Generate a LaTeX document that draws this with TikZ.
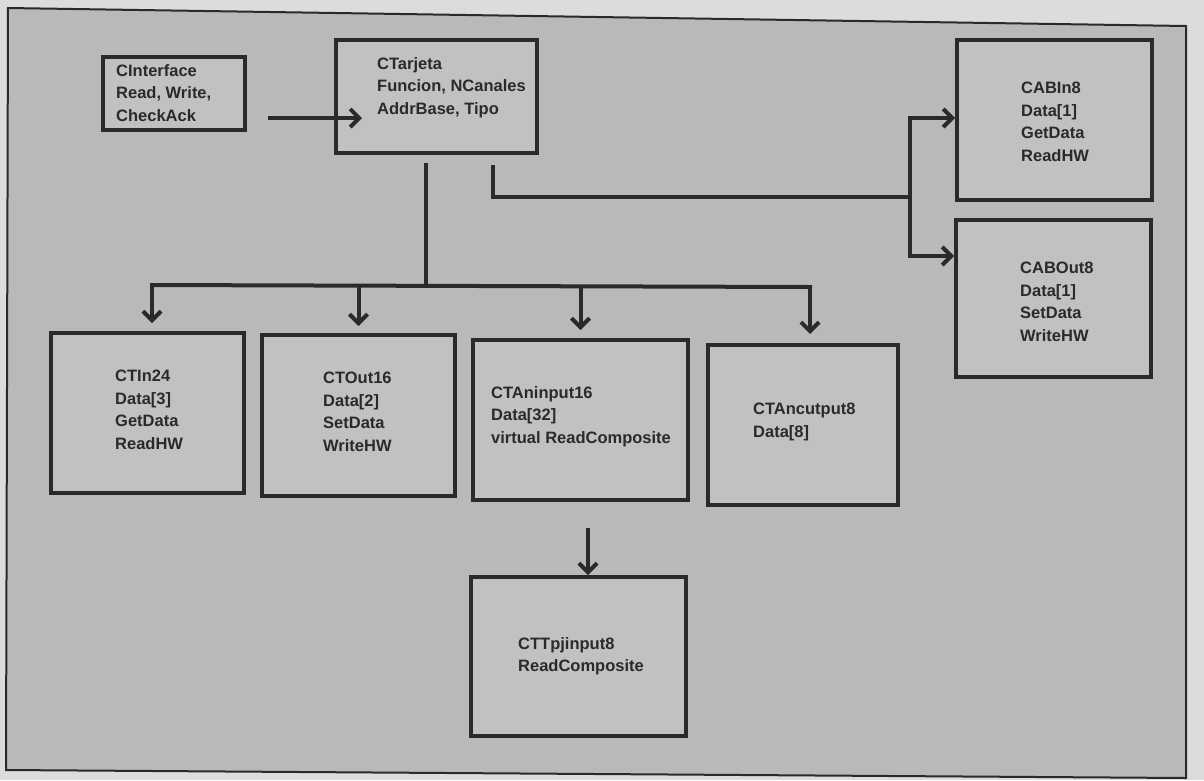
\documentclass[tikz,border=0pt]{standalone}
\usepackage{fontspec}
\setmainfont{Liberation Sans}
\usetikzlibrary{arrows.meta}
\definecolor{paper}{HTML}{DCDCDC}
\definecolor{panel}{HTML}{B9B9BB}
\definecolor{ink}{HTML}{2A2A2C}
\tikzset{
  cls/.style={draw=ink, line width=4pt, fill=panel!88!white, inner sep=0pt},
  txt/.style={anchor=north west, inner sep=0pt, align=left, text=ink,
    font=\fontsize{16.5}{22.5}\selectfont\bfseries},
  wire/.style={draw=ink, line width=4pt},
  arr/.style={draw=ink, line width=4pt, -{Straight Barb[length=9pt,width=18pt,line width=4pt]}}
}
\begin{document}
\begin{tikzpicture}[x=1pt,y=-1pt]
\useasboundingbox (0,0) rectangle (1204,780);
\fill[paper] (0,0) rectangle (1204,780);
\filldraw[fill=panel, draw=ink, line width=2pt] (8,8) -- (1186,26) -- (1186,778) -- (6,770) -- cycle;
% boxes
\node[cls, minimum width=142pt, minimum height=73pt] (iface) at (174,93.5) {};
\node[cls, minimum width=201pt, minimum height=113pt] (tarj) at (436.5,96.5) {};
\node[cls, minimum width=195pt, minimum height=160pt] (abin) at (1054.5,120) {};
\node[cls, minimum width=195pt, minimum height=157pt] (about) at (1053.5,298.5) {};
\node[cls, minimum width=193pt, minimum height=160pt] (tin) at (147.5,413) {};
\node[cls, minimum width=193pt, minimum height=161pt] (tout) at (358.5,415.5) {};
\node[cls, minimum width=215pt, minimum height=160pt] (tain) at (580.5,420) {};
\node[cls, minimum width=190pt, minimum height=160pt] (taout) at (803,425) {};
\node[cls, minimum width=215pt, minimum height=159pt] (tpj) at (578.5,656.5) {};
% texts
\node[txt] (ifaceT) at (116,64) {CInterface\\Read, Write,\\CheckAck};
\node[txt] (tarjT) at (377,57) {CTarjeta\\Funcion, NCanales\\AddrBase, Tipo};
\node[txt] (abinT) at (1021,82) {CABIn8\\Data[1]\\GetData\\ReadHW};
\node[txt] (aboutT) at (1020,262) {CABOut8\\Data[1]\\SetData\\WriteHW};
\node[txt] (tinT) at (115,370) {CTIn24\\Data[3]\\GetData\\ReadHW};
\node[txt] (toutT) at (323,372) {CTOut16\\Data[2]\\SetData\\WriteHW};
\node[txt] (tainT) at (491,386) {CTAninput16\\Data[32]\\virtual ReadComposite};
\node[txt] (taoutT) at (753,403) {CTAncutput8\\Data[8]};
\node[txt] (tpjT) at (518,637) {CTTpjinput8\\ReadComposite};
% connector points
\coordinate (c1) at (268,118);
\coordinate (c1e) at (362,118);
\coordinate (t1) at (426,163);
\coordinate (t2) at (426,285);
\coordinate (bl) at (152,285);
\coordinate (br) at (810,287);
\coordinate (r1) at (493,165);
\coordinate (r2) at (493,197);
\coordinate (r3) at (910,197);
\coordinate (rt) at (910,118);
\coordinate (rb) at (910,256);
\coordinate (d1) at (588,528);
% connectors
\draw[arr] (c1) -- (c1e);
\draw[wire] (t1) -- (t2);
\draw[wire, line cap=rect] (bl) -- (br);
\draw[arr] (bl) -- (bl |- 0,323);
\draw[arr] (tout.north |- 0,285) -- (tout.north |- 0,326);
\draw[arr] (tain.north |- 0,286) -- (tain.north |- 0,330);
\draw[arr] (br) -- (br |- 0,334);
\draw[wire] (r1) -- (r2) -- (r3);
\draw[wire, line cap=rect] (rt) -- (rb);
\draw[arr] (rt) -- (abin.west |- rt);
\draw[arr] (rb) -- (about.west |- rb);
\draw[arr] (d1) -- (d1 |- tpj.north);
\end{tikzpicture}
\end{document}
